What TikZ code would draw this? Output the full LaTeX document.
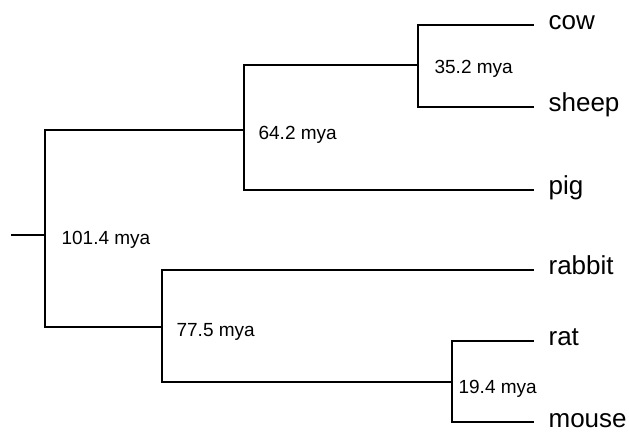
\documentclass[tikz,border=0pt]{standalone}
\usepackage{fontspec}
\setmainfont{Liberation Sans}
\usetikzlibrary{positioning}

\tikzset{
  leaf/.style={anchor=west, inner xsep=14pt, inner ysep=0pt,
    text height=16pt, text depth=6pt, font=\fontsize{26}{28}\selectfont},
  age/.style={inner sep=0pt, font=\fontsize{19}{21}\selectfont},
}

\begin{document}
\begin{tikzpicture}[x=1pt, y=-1pt, line width=1.2pt]
            \useasboundingbox (0,0) rectangle (629,435);

            % split points
            \coordinate (stub) at (11,235);
            \coordinate (n0) at (45,235);
            \coordinate (n1) at (244,130);
            \coordinate (n2) at (162,327);
            \coordinate (n3) at (418,65);
            \coordinate (n4) at (452,382);

            % species
            \node[leaf] (cow) at (534,25) {cow};
            \node[leaf] (sheep) at (534,107) {sheep};
            \node[leaf] (pig) at (534,190) {pig};
            \node[leaf] (rabbit) at (534,270) {rabbit};
            \node[leaf] (rat) at (534,341) {rat};
            \node[leaf] (mouse) at (534,422) {mouse};

            \draw (stub) -- (n0);
            \draw (n0) |- (n1);
            \draw (n0) |- (n2);
            \draw (n1) |- (n3);
            \draw (n1) |- (pig.west);
            \draw (n3) |- (cow.west);
            \draw (n3) |- (sheep.west);
            \draw (n2) |- (rabbit.west);
            \draw (n2) |- (n4);
            \draw (n4) |- (rat.west);
            \draw (n4) |- (mouse.west);

            % ages
            \node[age, right=16pt of n0, yshift=-5pt] (a0) {101.4 mya};
            \node[age, right=14pt of n1, yshift=-5pt] (a1) {64.2 mya};
            \node[age, right=16pt of n3, yshift=-4pt] (a3) {35.2 mya};
            \node[age, right=14pt of n2, yshift=-5pt] (a2) {77.5 mya};
            \node[age, right=6pt of n4, yshift=-7pt] (a4) {19.4 mya};
        \end{tikzpicture}
\end{document}
